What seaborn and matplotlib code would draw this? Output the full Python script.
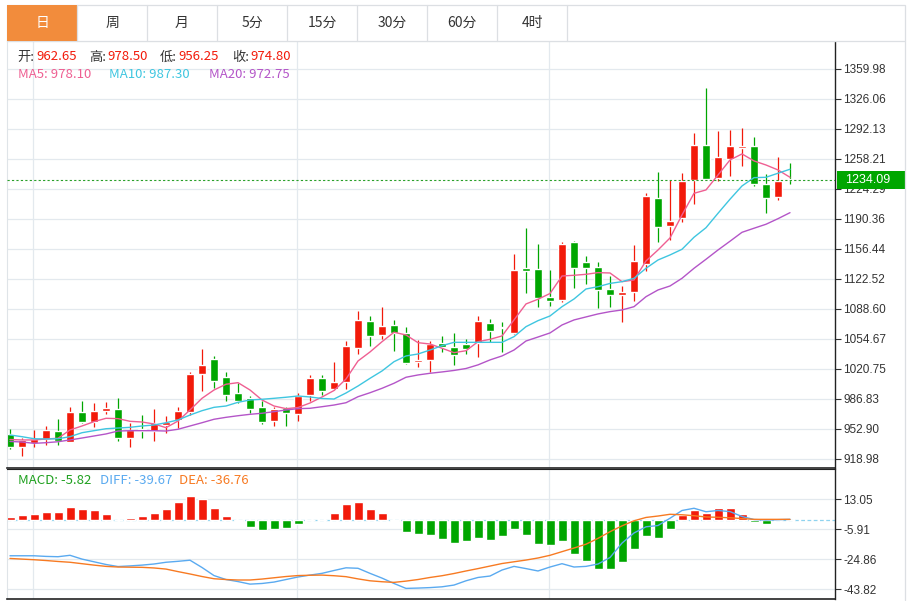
import numpy as np
import pandas as pd
import seaborn as sns
import matplotlib.pyplot as plt
from matplotlib.patches import Rectangle
from matplotlib.transforms import blended_transform_factory

# candle data (daily)
opens = [946.9, 932.2, 936.7, 941.3, 950.6, 938.5, 972.1, 961.2, 973.6, 975.2,
         943.1, 952.9, 951.0, 957.4, 963.1, 972.5, 1015.1, 1031.7, 1011.4, 993.3,
         988.0, 978.1, 962.0, 976.7, 969.5, 991.4, 1010.6, 998.5, 1006.1, 1044.2,
         1075.4, 1058.9, 1070.6, 1061.5, 1029.0, 1030.6, 1049.8, 1045.3, 1049.0, 1049.8,
         1073.2, 1068.1, 1061.5, 1134.4, 1134.1, 1101.9, 1098.8, 1164.6, 1142.0, 1136.2,
         1111.2, 1104.5, 1107.8, 1139.7, 1214.3, 1182.8, 1191.9, 1234.5, 1274.1, 1237.0,
         1257.9, 1270.7, 1272.6, 1230.2, 1215.7, 1236.0]
highs = [952.6, 942.4, 951.8, 956.3, 963.9, 977.8, 984.6, 982.6, 983.4, 987.6,
         960.0, 968.7, 975.2, 967.6, 977.4, 1017.0, 1043.0, 1035.8, 1017.4, 1005.3,
         990.2, 984.6, 978.1, 977.4, 993.3, 1014.0, 1013.6, 1028.7, 1052.4, 1086.7,
         1081.0, 1090.4, 1076.2, 1068.3, 1053.6, 1052.8, 1058.1, 1061.5, 1054.3, 1080.7,
         1077.3, 1074.4, 1150.3, 1179.6, 1162.0, 1132.7, 1163.8, 1165.7, 1148.4, 1141.4,
         1126.0, 1114.6, 1160.6, 1219.9, 1243.7, 1234.5, 1242.5, 1287.1, 1338.3, 1289.7,
         1291.0, 1293.3, 1283.2, 1241.2, 1260.5, 1254.0]
lows = [930.0, 922.7, 932.2, 934.5, 935.2, 938.2, 959.4, 954.8, 969.9, 939.7,
        932.9, 943.1, 939.7, 948.7, 953.7, 968.7, 995.9, 999.3, 984.6, 982.0,
        970.7, 958.6, 956.3, 956.3, 962.3, 984.9, 991.4, 997.0, 998.5, 1037.7,
        1047.1, 1054.7, 1041.4, 1026.4, 1023.4, 1017.8, 1040.3, 1025.6, 1038.1, 1034.7,
        1051.7, 1039.7, 1060.0, 1106.2, 1091.3, 1092.1, 1097.0, 1112.8, 1116.9, 1089.4,
        1091.3, 1074.3, 1098.0, 1131.1, 1163.8, 1166.7, 1187.1, 1207.4, 1234.5, 1233.8,
        1239.0, 1250.0, 1227.9, 1197.5, 1211.9, 1230.2]
closes = [932.2, 940.5, 941.6, 951.8, 939.7, 972.1, 961.2, 973.3, 976.3, 943.1,
          951.8, 950.6, 959.4, 960.8, 973.6, 1015.1, 1025.3, 1007.2, 991.4, 984.6,
          975.9, 961.2, 975.2, 971.3, 990.2, 1010.6, 996.2, 1006.1, 1046.8, 1076.2,
          1058.1, 1069.9, 1061.5, 1027.2, 1030.6, 1049.0, 1046.0, 1036.6, 1043.0, 1075.1,
          1063.9, 1066.6, 1132.5, 1131.8, 1101.1, 1097.7, 1162.0, 1135.2, 1134.4, 1109.7,
          1104.5, 1108.2, 1143.1, 1216.8, 1181.2, 1188.5, 1233.8, 1274.1, 1235.2, 1260.5,
          1273.3, 1273.0, 1230.2, 1214.6, 1233.8, 1234.09]

ma5 = [941.0, 940.5, 940.5, 941.6, 942.4, 951.8, 956.3, 961.2, 965.0, 964.6,
       961.6, 960.8, 958.6, 954.4, 961.9, 974.4, 987.6, 997.0, 1003.5, 1005.3,
       997.0, 985.7, 978.9, 975.9, 977.2, 982.3, 989.1, 996.4, 1009.4, 1029.8,
       1040.0, 1051.6, 1062.3, 1059.2, 1050.5, 1049.0, 1044.2, 1039.2, 1041.4, 1051.6,
       1054.3, 1058.1, 1076.2, 1094.3, 1099.6, 1106.1, 1125.9, 1126.7, 1127.8, 1129.7,
       1129.3, 1119.5, 1121.4, 1142.9, 1155.3, 1168.9, 1194.9, 1219.4, 1223.2, 1240.1,
       1257.1, 1263.9, 1256.0, 1251.4, 1245.8, 1237.5]
ma10 = [946.1, 944.2, 941.9, 941.6, 941.9, 944.2, 948.7, 951.0, 953.2, 954.0,
        954.8, 956.3, 957.4, 960.0, 963.1, 968.7, 973.6, 977.4, 978.9, 983.1,
        985.7, 986.5, 987.6, 988.8, 990.2, 989.1, 987.4, 986.8, 993.6, 1001.5,
        1010.2, 1018.5, 1029.0, 1035.5, 1037.7, 1042.2, 1047.1, 1050.9, 1050.9, 1050.9,
        1050.9, 1050.9, 1057.3, 1068.6, 1075.4, 1080.7, 1091.2, 1099.9, 1111.2, 1113.8,
        1117.5, 1119.5, 1123.3, 1134.6, 1144.0, 1149.7, 1156.1, 1169.7, 1180.5, 1196.8,
        1212.7, 1227.7, 1237.1, 1237.5, 1242.1, 1246.6]
ma20 = [938.8, 938.2, 936.7, 937.4, 938.5, 940.5, 942.7, 945.0, 947.3, 950.6,
        951.0, 951.0, 951.0, 950.6, 952.6, 956.3, 960.0, 963.9, 966.1, 967.9,
        969.5, 970.7, 972.5, 974.4, 975.9, 976.3, 978.1, 980.0, 982.6, 989.4,
        993.9, 998.9, 1004.6, 1011.4, 1014.0, 1015.9, 1017.4, 1019.1, 1021.3, 1025.4,
        1031.0, 1035.5, 1042.2, 1052.4, 1056.9, 1061.5, 1070.5, 1076.2, 1079.6, 1083.0,
        1085.6, 1087.5, 1091.2, 1102.5, 1110.1, 1114.6, 1123.3, 1134.6, 1144.8, 1155.3,
        1165.2, 1175.3, 1179.9, 1184.4, 1190.7, 1197.5]

macd_hist = [1.9, 3.0, 3.8, 4.9, 5.1, 8.2, 6.8, 6.3, 3.8, 0.1,
             1.1, 2.1, 4.2, 7.0, 11.2, 15.2, 13.3, 7.6, 2.5, -1.1,
             -4.6, -6.8, -5.9, -5.2, -2.5, -0.2, 0.1, 4.2, 10.1, 10.9,
             7.0, 4.2, -1.1, -7.6, -8.8, -9.5, -12.2, -14.5, -13.7, -11.6,
             -12.8, -10.6, -5.7, -9.9, -15.4, -15.8, -13.7, -21.5, -26.3, -31.1,
             -31.1, -27.0, -18.8, -10.6, -11.6, -5.7, 3.2, 6.3, 4.2, 7.6,
             7.4, 3.8, -1.5, -2.5, 0.0, 0.0]
diff = [-22.8, -22.8, -22.8, -23.2, -23.4, -22.5, -24.9, -26.6, -28.3, -29.6,
        -29.2, -28.7, -28.0, -26.9, -26.3, -25.6, -30.2, -35.3, -37.8, -39.1,
        -40.7, -40.3, -39.4, -37.8, -36.2, -35.0, -33.9, -32.1, -30.4, -30.7,
        -33.9, -36.9, -40.3, -43.4, -43.2, -42.9, -42.4, -41.3, -38.6, -36.5,
        -35.6, -31.8, -29.5, -30.9, -32.4, -29.9, -27.8, -29.9, -29.5, -28.0,
        -23.9, -14.8, -8.4, -4.5, -3.7, 0.9, 5.8, 7.2, 5.0, 5.8,
        5.1, 2.0, 0.1, -0.2, 0.0, 0.2]
dea = [-24.5, -24.9, -25.3, -25.8, -26.4, -26.9, -27.8, -28.7, -29.5, -29.9,
       -30.0, -30.1, -30.5, -31.2, -32.8, -34.3, -35.9, -37.3, -37.8, -38.1,
       -38.1, -37.5, -36.7, -35.9, -35.3, -35.1, -35.0, -35.4, -36.0, -37.4,
       -38.6, -39.2, -39.6, -38.8, -37.8, -36.5, -35.4, -34.0, -32.4, -30.9,
       -29.3, -27.7, -26.6, -25.5, -24.2, -22.5, -20.2, -17.9, -15.5, -11.8,
       -7.6, -3.9, -0.7, 1.4, 2.3, 3.4, 3.1, 2.5, 1.7, 1.5,
       1.2, 0.7, 0.2, 0.2, 0.2, 0.2]

price_ticks = [918.98, 952.90, 986.83, 1020.75, 1054.67, 1088.60, 1122.52,
               1156.44, 1190.36, 1224.29, 1258.21, 1292.13, 1326.06, 1359.98]
macd_ticks = [13.05, -5.91, -24.86, -43.82]
tabs = ['日', '周', '月', '5分', '15分', '30分', '60分', '4时']

RED = '#f21a0a'
GREEN = '#00a600'
C_MA5 = '#ef5f92'
C_MA10 = '#3fc6e0'
C_MA20 = '#b455c8'
C_DIFF = '#5aaaf0'
C_DEA = '#f77a22'
GRID = '#e3e9ee'
CJK = ['Noto Sans CJK SC', 'DejaVu Sans']

sns.set_style('white')
plt.rcParams['font.family'] = ['Liberation Sans', 'Noto Sans CJK SC', 'DejaVu Sans']

W, H = 913, 601
fig = plt.figure(figsize=(W / 100, H / 100), dpi=100)


def box(x0, y0, x1, y1):
    return [x0 / W, 1 - y1 / H, (x1 - x0) / W, (y1 - y0) / H]


ax = fig.add_axes(box(7, 41, 835, 468))
ax2 = fig.add_axes(box(7, 469, 835, 599))

df = pd.DataFrame({'i': np.arange(len(opens)), 'open': opens, 'high': highs,
                   'low': lows, 'close': closes, 'ma5': ma5, 'ma10': ma10, 'ma20': ma20})
up = df['close'] >= df['open']
cols = np.where(up, RED, GREEN)

# candles
ax.vlines(df['i'], df['low'], df['high'], colors=cols, lw=0.9, zorder=2)
body = (df['close'] - df['open']).abs().clip(lower=1.6)
ax.bar(df['i'], body, bottom=df[['open', 'close']].min(axis=1), width=0.68,
       color=cols, zorder=2)

sns.lineplot(data=df, x='i', y='ma5', ax=ax, color=C_MA5, lw=1, zorder=3)
sns.lineplot(data=df, x='i', y='ma10', ax=ax, color=C_MA10, lw=1, zorder=3)
sns.lineplot(data=df, x='i', y='ma20', ax=ax, color=C_MA20, lw=1, zorder=3)

last = closes[-1]
ax.axhline(last, color='#2aa02a', ls=(0, (2, 2)), lw=0.8, zorder=3)

# macd panel
mdf = pd.DataFrame({'i': np.arange(len(macd_hist)), 'macd': macd_hist,
                    'diff': diff, 'dea': dea})
mdf['sign'] = np.where(mdf['macd'] >= 0, 'up', 'down')
sns.barplot(data=mdf, x='i', y='macd', hue='sign', palette={'up': RED, 'down': GREEN},
            native_scale=True, dodge=False, legend=False, width=0.75, saturation=1,
            ax=ax2, zorder=2)
ax2.axhline(0, color='#8fd3ef', ls=(0, (3, 2)), lw=0.9, zorder=1)
sns.lineplot(data=mdf, x='i', y='diff', ax=ax2, color=C_DIFF, lw=1, zorder=3)
sns.lineplot(data=mdf, x='i', y='dea', ax=ax2, color=C_DEA, lw=1, zorder=3)

for a in (ax, ax2):
    a.set_xlim(-0.25, 68.75)
    a.set_xlabel('')
    a.set_ylabel('')
    a.tick_params(axis='x', bottom=False, labelbottom=False)
    a.yaxis.tick_right()
    a.tick_params(axis='y', direction='out', length=4, width=0.8, color='#333333',
                  labelsize=8.5, labelcolor='#333333', pad=2)
    a.grid(axis='y', color=GRID, lw=0.9)
    a.set_axisbelow(True)
    for xv in (1.92, 23.92, 44.92):
        a.axvline(xv, color=GRID, lw=0.9, zorder=0)
    a.spines['left'].set_color('#dfe4e8')
    a.spines['right'].set_color('#222222')
    a.spines['right'].set_linewidth(1)

ax.set_ylim(908.8, 1391.6)
ax.set_yticks(price_ticks)
ax.set_yticklabels([f'{t:.2f}' for t in price_ticks])
ax.spines['top'].set_color('#dfe4e8')
ax.spines['bottom'].set_color('#222222')
ax.spines['bottom'].set_linewidth(1.2)

ax2.set_ylim(-50.1, 32.0)
ax2.set_yticks(macd_ticks)
ax2.set_yticklabels([f'{t:.2f}' for t in macd_ticks])
ax2.spines['top'].set_color('#222222')
ax2.spines['bottom'].set_color('#222222')
ax2.spines['bottom'].set_linewidth(1.2)

# last price label
tr = blended_transform_factory(ax.transAxes, ax.transData)
ax.add_patch(Rectangle((1.0024, last - 10.2), 0.0821, 20.4, transform=tr,
                       facecolor=GREEN, edgecolor='none', clip_on=False, zorder=10))
ax.text(1.012, last, f'{last:.2f}', transform=tr, color='white', fontsize=9,
        va='center', ha='left', zorder=11, clip_on=False)

# overlay in pixel coordinates: tabs, legends, frame
ov = fig.add_axes([0, 0, 1, 1], facecolor='none')
ov.set_xlim(0, W)
ov.set_ylim(H, 0)
ov.axis('off')
ov.add_patch(Rectangle((7, 5), 898, 36, facecolor='white', edgecolor='#dcdfe3', lw=0.9))
ov.add_patch(Rectangle((7, 5), 70, 36, facecolor='#f28c3c', edgecolor='none'))
for k, t in enumerate(tabs):
    x0 = 7 + 70 * k
    ov.plot([x0 + 70, x0 + 70], [5, 41], color='#dcdfe3', lw=0.9)
    ov.text(x0 + 35, 23, t, ha='center', va='center', fontsize=10,
            color='white' if k == 0 else '#333333', family=CJK)
ov.plot([905, 905], [41, 600], color='#dcdfe3', lw=0.9)

row1 = [(17, '开:', '#333333'), (36, '962.65', RED), (89, '高:', '#333333'),
        (107, '978.50', RED), (160, '低:', '#333333'), (178, '956.25', RED),
        (232, '收:', '#333333'), (250, '974.80', RED)]
for x, t, c in row1:
    ov.text(x, 57, t, ha='left', va='center', fontsize=9.5, color=c, family=CJK)
row2 = [(18, 'MA5: 978.10', C_MA5), (109, 'MA10: 987.30', C_MA10),
        (209, 'MA20: 972.75', C_MA20)]
for x, t, c in row2:
    ov.text(x, 75, t, ha='left', va='center', fontsize=9.5, color=c, family=CJK)
row3 = [(18, 'MACD: -5.82', '#1fa01f'), (100, 'DIFF: -39.67', C_DIFF),
        (179, 'DEA: -36.76', C_DEA)]
for x, t, c in row3:
    ov.text(x, 480, t, ha='left', va='center', fontsize=9.5, color=c, family=CJK)

fig.savefig('out.png', dpi=100)
